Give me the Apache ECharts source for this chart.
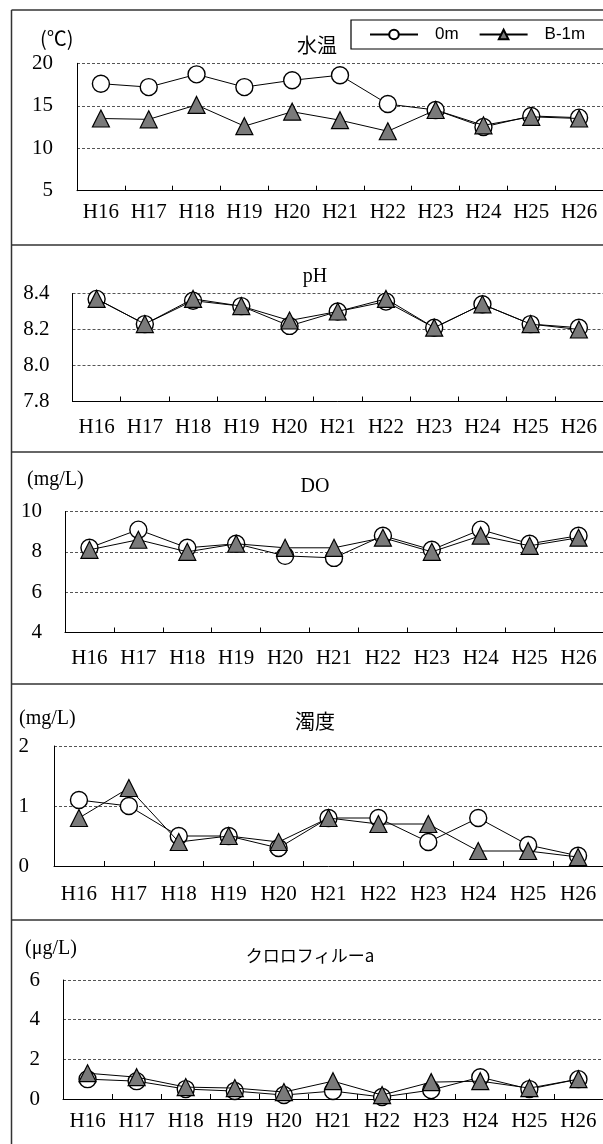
<!DOCTYPE html>
<html>
<head>
<meta charset="utf-8">
<script src="https://cdn.jsdelivr.net/npm/echarts@6/dist/echarts.min.js"></script>
<style>
  html, body { margin: 0; padding: 0; background: #fff; }
  #chart { width: 603px; height: 1144px; }
</style>
</head>
<body>
<div id="chart"></div>
<script>
// Survey years (Heisei)
const years = ['H16', 'H17', 'H18', 'H19', 'H20', 'H21', 'H22', 'H23', 'H24', 'H25', 'H26'];
const seriesNames = ['0m', 'B-1m'];

// Water temperature (℃)
const tempSurface = [17.6, 17.2, 18.7, 17.2, 18.0, 18.6, 15.2, 14.5, 12.5, 13.8, 13.6];
const tempB1 = [13.5, 13.4, 15.1, 12.6, 14.3, 13.3, 12.0, 14.5, 12.7, 13.7, 13.5];

// pH
const phSurface = [8.37, 8.23, 8.36, 8.33, 8.22, 8.30, 8.355, 8.21, 8.34, 8.23, 8.21];
const phB1 = [8.37, 8.23, 8.37, 8.33, 8.25, 8.30, 8.37, 8.21, 8.34, 8.23, 8.20];

// Dissolved oxygen (mg/L)
const doSurface = [8.2, 9.1, 8.2, 8.4, 7.8, 7.7, 8.8, 8.1, 9.1, 8.4, 8.8];
const doB1 = [8.1, 8.6, 8.0, 8.4, 8.2, 8.2, 8.7, 8.0, 8.8, 8.3, 8.7];

// Turbidity (mg/L)
const turbSurface = [1.1, 1.0, 0.5, 0.5, 0.3, 0.8, 0.8, 0.4, 0.8, 0.35, 0.17];
const turbB1 = [0.8, 1.3, 0.4, 0.5, 0.4, 0.8, 0.7, 0.7, 0.25, 0.25, 0.15];

// Chlorophyll-a (μg/L)
const chlSurface = [1.0, 0.9, 0.5, 0.4, 0.2, 0.4, 0.1, 0.45, 1.1, 0.5, 1.0];
const chlB1 = [1.3, 1.1, 0.6, 0.55, 0.35, 0.9, 0.2, 0.85, 0.9, 0.55, 1.0];

// Axis ranges: [min, max, interval]
const tempRange = [5, 20, 5];
const phRange = [7.8, 8.4, 0.2];
const doRange = [4, 10, 2];
const turbRange = [0, 2, 1];
const chlRange = [0, 6, 2];

const titles = ['水温', 'pH', 'DO', '濁度', 'クロロフィルーa'];
const units = ['(℃)', '', '(mg/L)', '(mg/L)', '(μg/L)'];

const SERIF = '"Liberation Serif", "DejaVu Serif", serif';
const CJK = '"Noto Sans CJK JP", sans-serif';

// Panel layout: plot box, label margins, header positions
const panels = [
  { left: 77, top: 63.3, width: 528, height: 127.4, yMargin: 24, xMargin: 11,
    data: [tempSurface, tempB1], range: tempRange, digits: 0,
    title: [317, 45], unit: [40, 38] },
  { left: 72.5, top: 293.5, width: 533, height: 108, yMargin: 23, xMargin: 15,
    data: [phSurface, phB1], range: phRange, digits: 1,
    title: [315, 277], unit: null },
  { left: 65, top: 511.5, width: 539, height: 121, yMargin: 23, xMargin: 15,
    data: [doSurface, doB1], range: doRange, digits: 0,
    title: [315, 487], unit: [27, 480] },
  { left: 54, top: 746, width: 550, height: 120, yMargin: 25, xMargin: 18,
    data: [turbSurface, turbB1], range: turbRange, digits: 0,
    title: [315, 721], unit: [19, 719] },
  { left: 63, top: 980, width: 540, height: 119, yMargin: 23, xMargin: 12,
    data: [chlSurface, chlB1], range: chlRange, digits: 0,
    title: [310, 956], unit: [25, 949] }
];

const grids = [], xAxes = [], yAxes = [], series = [], graphics = [];

panels.forEach((p, i) => {
  grids.push({ left: p.left, top: p.top, width: p.width, height: p.height });
  xAxes.push({
    type: 'category', gridIndex: i, data: years, boundaryGap: true,
    axisLine: { lineStyle: { color: '#000', width: 1 } },
    axisTick: { show: true, inside: true, length: 5, lineStyle: { color: '#000' } },
    axisLabel: { color: '#000', fontFamily: SERIF, fontSize: 21, margin: p.xMargin, interval: 0 },
    splitLine: { show: false }
  });
  yAxes.push({
    type: 'value', gridIndex: i,
    min: p.range[0], max: p.range[1], interval: p.range[2],
    axisLine: { show: true, lineStyle: { color: '#000', width: 1 } },
    axisTick: { show: false },
    axisLabel: {
      color: '#000', fontFamily: SERIF, fontSize: 21, margin: p.yMargin,
      formatter: v => v.toFixed(p.digits)
    },
    splitLine: { show: true, lineStyle: { color: '#555', width: 1, type: [3, 2] } }
  });
  series.push({
    name: seriesNames[0], type: 'line', xAxisIndex: i, yAxisIndex: i,
    data: p.data[0], symbol: 'circle', symbolSize: 17,
    itemStyle: { color: '#fff', borderColor: '#000', borderWidth: 1.4 },
    lineStyle: { color: '#000', width: 1 },
    z: 2
  });
  series.push({
    name: seriesNames[1], type: 'line', xAxisIndex: i, yAxisIndex: i,
    data: p.data[1], symbol: 'triangle', symbolSize: 17,
    itemStyle: { color: '#7a7a7a', borderColor: '#000', borderWidth: 1.2 },
    lineStyle: { color: '#000', width: 1 },
    z: 3
  });

  // panel heading and unit
  graphics.push({
    type: 'text', x: p.title[0], y: p.title[1],
    style: {
      text: titles[i], fill: '#000', align: 'center', verticalAlign: 'middle',
      font: (i === 4 ? '17px ' : '20px ') + (i === 1 || i === 2 ? SERIF : CJK)
    }
  });
  if (p.unit) {
    graphics.push({
      type: 'text', x: p.unit[0], y: p.unit[1],
      style: {
        text: units[i], fill: '#000', align: 'left', verticalAlign: 'middle',
        font: '20px ' + (i === 0 ? CJK : SERIF)
      }
    });
  }
});

// Outer frame and panel separators
const frameColor = '#333';
graphics.push({ type: 'line', shape: { x1: 11.5, y1: 10, x2: 11.5, y2: 1144 },
  style: { stroke: frameColor, lineWidth: 1.5 } });
[10, 245, 452, 684, 920].forEach(y => {
  graphics.push({ type: 'line', shape: { x1: 11.5, y1: y, x2: 603, y2: y },
    style: { stroke: frameColor, lineWidth: 1.5 } });
});

const chart = echarts.init(document.getElementById('chart'), null, { renderer: 'canvas' });
chart.setOption({
  animation: false,
  backgroundColor: '#fff',
  legend: {
    data: seriesNames,
    orient: 'horizontal',
    left: 351, top: 20, width: 290,
    padding: [6, 30, 6, 18],
    itemWidth: 48, itemHeight: 12, itemGap: 20,
    borderColor: '#000', borderWidth: 1.2,
    textStyle: { color: '#000', fontFamily: '"Liberation Sans", sans-serif', fontSize: 17, padding: [0, 0, 0, 12] }
  },
  grid: grids,
  xAxis: xAxes,
  yAxis: yAxes,
  series: series,
  graphic: graphics
});
</script>
</body>
</html>
